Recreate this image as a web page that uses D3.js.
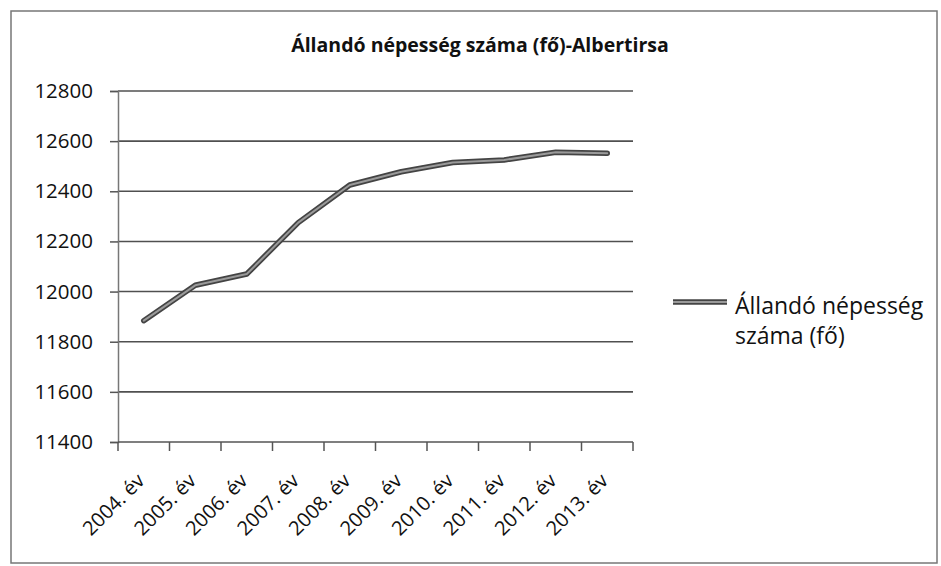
<!DOCTYPE html>
<html>
<head>
<meta charset="utf-8">
<script src="https://cdn.jsdelivr.net/npm/d3@7/dist/d3.min.js"></script>
<style>
  html, body { margin: 0; padding: 0; background: #fff; }
  svg { display: block; }
  text { font-family: "Open Sans", "DejaVu Sans", sans-serif; fill: #111; }
</style>
</head>
<body>
<svg id="chart" width="941" height="566"></svg>
<script>
const categories = ["2004. év","2005. év","2006. év","2007. év","2008. év","2009. év","2010. év","2011. év","2012. év","2013. év"];
const values = [11884, 12025, 12070, 12275, 12425, 12478, 12515, 12525, 12556, 12552];
const yTicks = [11400, 11600, 11800, 12000, 12200, 12400, 12600, 12800];
const titleText = "Állandó népesség száma (fő)-Albertirsa";
const legendLines = ["Állandó népesség", "száma (fő)"];

const svg = d3.select("#chart");
const plot = { left: 118, right: 633, top: 91, bottom: 442 };

// outer frame
svg.append("rect")
  .attr("x", 11).attr("y", 11).attr("width", 926).attr("height", 552)
  .attr("fill", "#fff").attr("stroke", "#777").attr("stroke-width", 1.5);

const x = d3.scaleBand().domain(categories).range([plot.left, plot.right]).padding(0);
const y = d3.scaleLinear().domain([11400, 12800]).range([plot.bottom, plot.top]);

// gridlines
svg.append("g").selectAll("line").data(yTicks.slice(1)).join("line")
  .attr("x1", plot.left).attr("x2", plot.right)
  .attr("y1", d => y(d)).attr("y2", d => y(d))
  .attr("stroke", "#505050").attr("stroke-width", 1.6);

// y axis
const yAxis = d3.axisLeft(y).tickValues(yTicks).tickSize(8).tickPadding(17).tickFormat(d3.format("d"));
const gy = svg.append("g").attr("transform", `translate(${plot.left},0)`).call(yAxis);
gy.select(".domain").attr("stroke", "#777").attr("stroke-width", 1.5);
gy.selectAll(".tick line").attr("stroke", "#555").attr("stroke-width", 1.5);
gy.selectAll(".tick text").attr("font-size", 20.5).attr("font-family", "DejaVu Sans").attr("fill", "#111");

// x axis
const boundaries = categories.map(c => x(c)).concat([plot.right]);
const gx = svg.append("g");
gx.append("line").attr("x1", plot.left).attr("x2", plot.right)
  .attr("y1", plot.bottom).attr("y2", plot.bottom)
  .attr("stroke", "#555").attr("stroke-width", 1.5);
gx.selectAll("line.tk").data(boundaries).join("line").attr("class", "tk")
  .attr("x1", d => d).attr("x2", d => d)
  .attr("y1", plot.bottom).attr("y2", plot.bottom + 9)
  .attr("stroke", "#555").attr("stroke-width", 1.5);
gx.selectAll("text").data(categories).join("text")
  .attr("transform", d => `translate(${x(d) + x.bandwidth() / 2 + 2},${plot.bottom + 40}) rotate(-45)`)
  .attr("text-anchor", "end")
  .attr("font-size", 20)
  .text(d => d);

// line
const line = d3.line()
  .x((d, i) => x(categories[i]) + x.bandwidth() / 2)
  .y(d => y(d));
svg.append("path").datum(values).attr("d", line)
  .attr("fill", "none").attr("stroke", "#444").attr("stroke-width", 5.5)
  .attr("stroke-linejoin", "round").attr("stroke-linecap", "round");
svg.append("path").datum(values).attr("d", line)
  .attr("fill", "none").attr("stroke", "#9a9a9a").attr("stroke-width", 2)
  .attr("stroke-linejoin", "round").attr("stroke-linecap", "round");

// title
svg.append("text").attr("x", 480).attr("y", 52)
  .attr("text-anchor", "middle").attr("font-weight", "bold").attr("font-size", 19.5)
  .text(titleText);

// legend
const lg = svg.append("g");
lg.append("line").attr("x1", 673).attr("x2", 727).attr("y1", 302).attr("y2", 302)
  .attr("stroke", "#444").attr("stroke-width", 5.5);
lg.append("line").attr("x1", 673).attr("x2", 727).attr("y1", 302).attr("y2", 302)
  .attr("stroke", "#9a9a9a").attr("stroke-width", 2);
lg.selectAll("text").data(legendLines).join("text")
  .attr("x", 735).attr("y", (d, i) => 314 + i * 30)
  .attr("font-size", 23)
  .text(d => d);
</script>
</body>
</html>
